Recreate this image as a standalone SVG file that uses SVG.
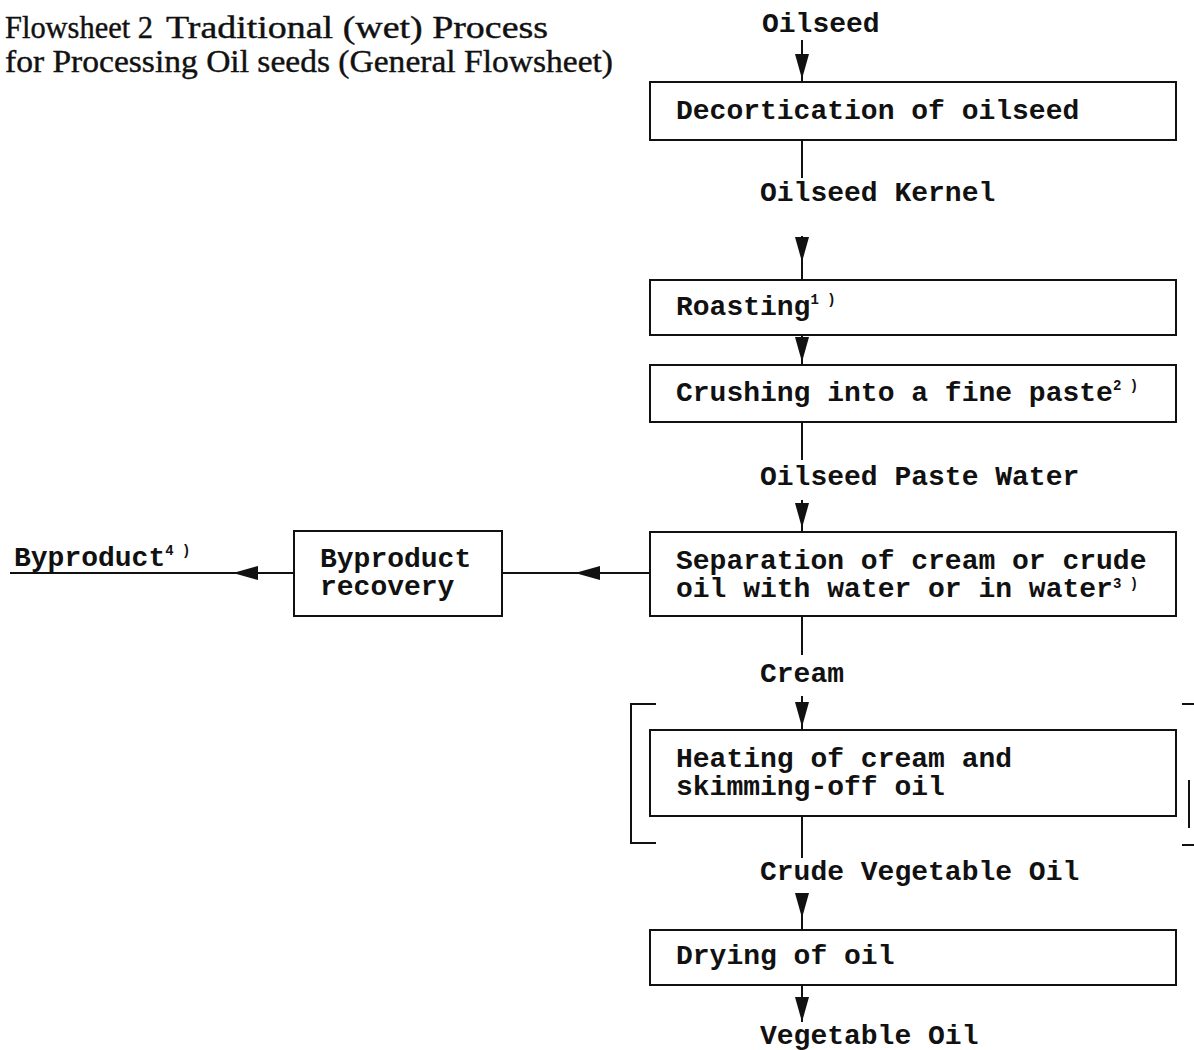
<svg xmlns="http://www.w3.org/2000/svg" width="1194" height="1050" viewBox="0 0 1194 1050">
<style>
.bg{fill:#fff}
.box{fill:none;stroke:#111;stroke-width:2}
.ln{fill:none;stroke:#111;stroke-width:2}
.t{font-family:"Liberation Mono","Courier New",monospace;font-size:28px;font-weight:bold;fill:#111}
.sup{font-size:14px}
.title{font-family:"Liberation Serif","Times New Roman",serif;font-size:32px;fill:#111;stroke:#111;stroke-width:0.4}
</style>
<defs>
<marker id="ah" markerUnits="userSpaceOnUse" markerWidth="26" markerHeight="16" viewBox="0 0 26 16" refX="25" refY="8" orient="auto">
<path d="M0,1 L25,8 L0,15 Z" fill="#111"/>
</marker>
</defs>
<rect class="bg" x="0" y="0" width="1194" height="1050"/>
<g id="title">
<text class="title" x="5" y="38" textLength="148" lengthAdjust="spacingAndGlyphs">Flowsheet 2</text>
<text class="title" x="166" y="38" textLength="382" lengthAdjust="spacingAndGlyphs">Traditional (wet) Process</text>
<text class="title" x="5" y="72" textLength="608" lengthAdjust="spacingAndGlyphs">for Processing Oil seeds (General Flowsheet)</text>
</g>
<g id="connectors">
<line class="ln" x1="802" y1="40" x2="802" y2="79" marker-end="url(#ah)"/>
<line class="ln" x1="802" y1="79" x2="802" y2="82"/>
<line class="ln" x1="802" y1="140" x2="802" y2="178"/>
<line class="ln" x1="802" y1="236" x2="802" y2="262" marker-end="url(#ah)"/>
<line class="ln" x1="802" y1="262" x2="802" y2="280"/>
<line class="ln" x1="802" y1="335" x2="802" y2="362" marker-end="url(#ah)"/>
<line class="ln" x1="802" y1="362" x2="802" y2="365"/>
<line class="ln" x1="802" y1="422" x2="802" y2="460"/>
<line class="ln" x1="802" y1="500" x2="802" y2="528" marker-end="url(#ah)"/>
<line class="ln" x1="802" y1="528" x2="802" y2="532"/>
<line class="ln" x1="650" y1="573" x2="502" y2="573"/>
<line class="ln" x1="640" y1="573" x2="575" y2="573" marker-end="url(#ah)"/>
<line class="ln" x1="294" y1="573" x2="10" y2="573"/>
<line class="ln" x1="290" y1="573" x2="233" y2="573" marker-end="url(#ah)"/>
<line class="ln" x1="802" y1="616" x2="802" y2="655"/>
<line class="ln" x1="802" y1="696" x2="802" y2="727" marker-end="url(#ah)"/>
<line class="ln" x1="802" y1="727" x2="802" y2="730"/>
<line class="ln" x1="802" y1="816" x2="802" y2="858"/>
<line class="ln" x1="802" y1="895" x2="802" y2="918" marker-end="url(#ah)"/>
<line class="ln" x1="802" y1="918" x2="802" y2="930"/>
<line class="ln" x1="802" y1="985" x2="802" y2="1022" marker-end="url(#ah)"/>
<path class="ln" d="M656,704 L631,704 L631,843 L656,843"/>
<path class="ln" d="M1182,704 L1194,704 M1189,780 L1189,828 M1182,845 L1194,845"/>
</g>
<g id="n-oilseed"><text class="t" x="762" y="32">Oilseed</text></g>
<g id="n-decortication">
<rect class="box" x="650" y="82" width="526" height="58"/>
<text class="t" x="676" y="119">Decortication of oilseed</text>
</g>
<g id="n-kernel"><text class="t" x="760" y="201">Oilseed Kernel</text></g>
<g id="n-roasting">
<rect class="box" x="650" y="280" width="526" height="55"/>
<text class="t" x="676" y="315">Roasting<tspan class="sup" dy="-11">1 )</tspan></text>
</g>
<g id="n-crushing">
<rect class="box" x="650" y="365" width="526" height="57"/>
<text class="t" x="676" y="401">Crushing into a fine paste<tspan class="sup" dy="-11">2 )</tspan></text>
</g>
<g id="n-paste"><text class="t" x="760" y="485">Oilseed Paste Water</text></g>
<g id="n-separation">
<rect class="box" x="650" y="532" width="526" height="84"/>
<text class="t" x="676" y="569">Separation of cream or crude</text>
<text class="t" x="676" y="597">oil with water or in water<tspan class="sup" dy="-9">3 )</tspan></text>
</g>
<g id="n-recovery">
<rect class="box" x="294" y="531" width="208" height="85"/>
<text class="t" x="320" y="567">Byproduct</text>
<text class="t" x="320" y="595">recovery</text>
</g>
<g id="n-byproduct"><text class="t" x="14" y="566">Byproduct<tspan class="sup" dy="-11">4 )</tspan></text></g>
<g id="n-cream"><text class="t" x="760" y="682">Cream</text></g>
<g id="n-heating">
<rect class="box" x="650" y="730" width="526" height="86"/>
<text class="t" x="676" y="767">Heating of cream and</text>
<text class="t" x="676" y="795">skimming-off oil</text>
</g>
<g id="n-crude"><text class="t" x="760" y="880">Crude Vegetable Oil</text></g>
<g id="n-drying">
<rect class="box" x="650" y="930" width="526" height="55"/>
<text class="t" x="676" y="964">Drying of oil</text>
</g>
<g id="n-vegoil"><text class="t" x="760" y="1044">Vegetable Oil</text></g>
</svg>
